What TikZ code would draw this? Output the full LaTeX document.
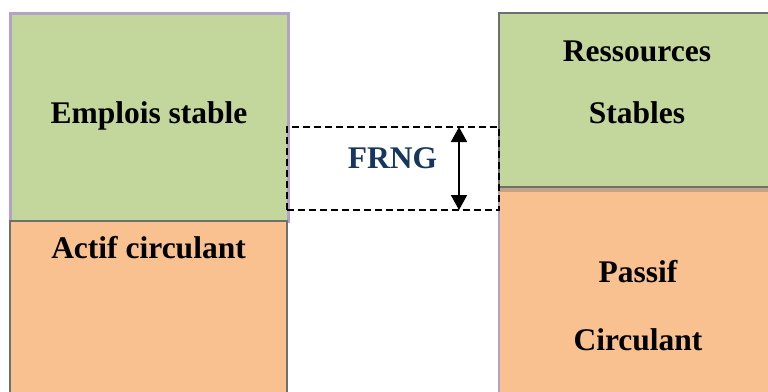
\documentclass[tikz,border=0pt]{standalone}
\usepackage{fontspec}
\setmainfont{Liberation Serif}
\usetikzlibrary{arrows.meta}
\definecolor{vert}{HTML}{C3D69B}
\definecolor{orange}{HTML}{F9C090}
\definecolor{violet}{HTML}{B3A2C7}
\definecolor{gris}{HTML}{6F6F6F}
\definecolor{brun}{HTML}{C4A386}
\definecolor{bleu}{HTML}{17365D}
\tikzset{
  box/.style={rectangle, anchor=north west, inner sep=0pt, outer sep=0pt},
  lbl/.style={anchor=base, inner sep=0pt, font=\fontsize{31.5}{36}\selectfont\bfseries},
}
\begin{document}
\begin{tikzpicture}[x=1pt,y=-1pt]
\useasboundingbox (0,0) rectangle (768,391);
% left column
\node[box, fill=vert, draw=violet, line width=3pt, minimum width=278pt, minimum height=208pt] (eg) at (10,13) {};
\node[box, fill=orange, draw=gris, line width=2.5pt, minimum width=277pt, minimum height=180pt] (ac) at (10,221) {};
% right column
\node[box, fill=orange, draw=violet, line width=1.5pt, minimum width=280pt, minimum height=215pt] (pc) at (499,187) {};
\draw[brun, line width=5pt] ([yshift=-2.5pt]pc.north west) -- ([yshift=-2.5pt]pc.north east);
\node[box, fill=vert, draw=gris, line width=2.5pt, minimum width=280pt, minimum height=174pt] (rs) at (499,13) {};
% dashed FRNG box
\node[box, draw=black, line width=2pt, dash pattern=on 7pt off 4pt, minimum width=212pt, minimum height=83pt] (fr) at (287,127) {};
\coordinate (ftop) at (459,127);
\coordinate (fbot) at (459,210);
\draw[line width=2pt, {Triangle[width=16pt,length=15pt]}-{Triangle[width=16pt,length=15pt]}] (ftop) -- (fbot);
% labels
\node[lbl] (t1) at (149,123) {Emplois stable};
\node[lbl] (t2) at (148.5,258) {Actif circulant};
\node[lbl] (t3) at (637,61) {Ressources};
\node[lbl] (t4) at (637,123) {Stables};
\node[lbl] (t5) at (638,282) {Passif};
\node[lbl] (t6) at (638,350) {Circulant};
\node[lbl, text=bleu] (t7) at (392.5,168) {FRNG};
\end{tikzpicture}
\end{document}
